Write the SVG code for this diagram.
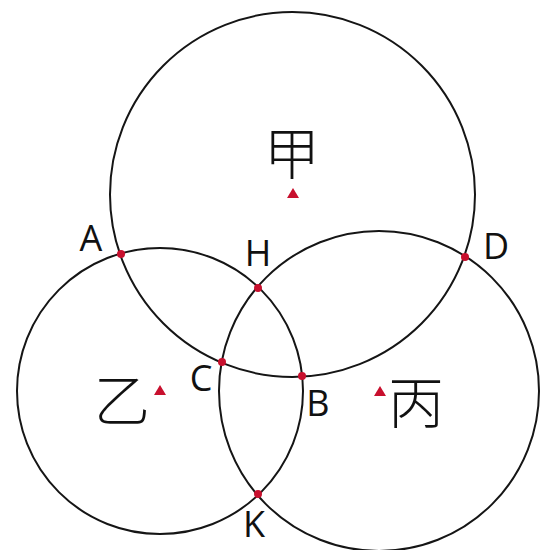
<svg xmlns="http://www.w3.org/2000/svg" width="550" height="550" viewBox="0 0 550 550">
<style>
.circ{fill:none;stroke:#151515;stroke-width:2}
.pt{fill:#c8102e}
.tri{fill:#c8102e}
.lbl{font-family:"Open Sans","Liberation Sans",sans-serif;font-size:36px;fill:#111}
.cjk{font-family:"Noto Sans CJK SC","Noto Sans CJK JP",sans-serif;font-size:56px;fill:#111;font-weight:300}
</style>
<rect width="550" height="550" fill="#fff"/>
<g id="circle-jia">
<circle class="circ" cx="292.5" cy="194.5" r="182.5"/>
<polygon class="tri" points="287,198 299,198 293,188"/>
<text class="cjk" x="292" y="174" text-anchor="middle">甲</text>
</g>
<g id="circle-yi">
<circle class="circ" cx="160" cy="391" r="143"/>
<polygon class="tri" points="154,395 166,395 160,385"/>
<text class="cjk" x="122" y="421" text-anchor="middle">乙</text>
</g>
<g id="circle-bing">
<circle class="circ" cx="379" cy="391" r="160"/>
<polygon class="tri" points="374,396 386,396 380,386"/>
<text class="cjk" x="416" y="423" text-anchor="middle">丙</text>
</g>
<g id="points">
<g id="pA"><circle class="pt" cx="121" cy="254" r="4"/><text class="lbl" x="91" y="251" text-anchor="middle">A</text></g>
<g id="pH"><circle class="pt" cx="258" cy="288" r="4"/><text class="lbl" x="258" y="266" text-anchor="middle">H</text></g>
<g id="pC"><circle class="pt" cx="222" cy="362" r="4"/><text class="lbl" x="201" y="391" text-anchor="middle">C</text></g>
<g id="pB"><circle class="pt" cx="302" cy="376" r="4"/><text class="lbl" x="318" y="416" text-anchor="middle">B</text></g>
<g id="pD"><circle class="pt" cx="465" cy="257" r="4"/><text class="lbl" x="496" y="259" text-anchor="middle">D</text></g>
<g id="pK"><circle class="pt" cx="258" cy="494" r="4"/><text class="lbl" x="254" y="537" text-anchor="middle">K</text></g>
</g>
</svg>
